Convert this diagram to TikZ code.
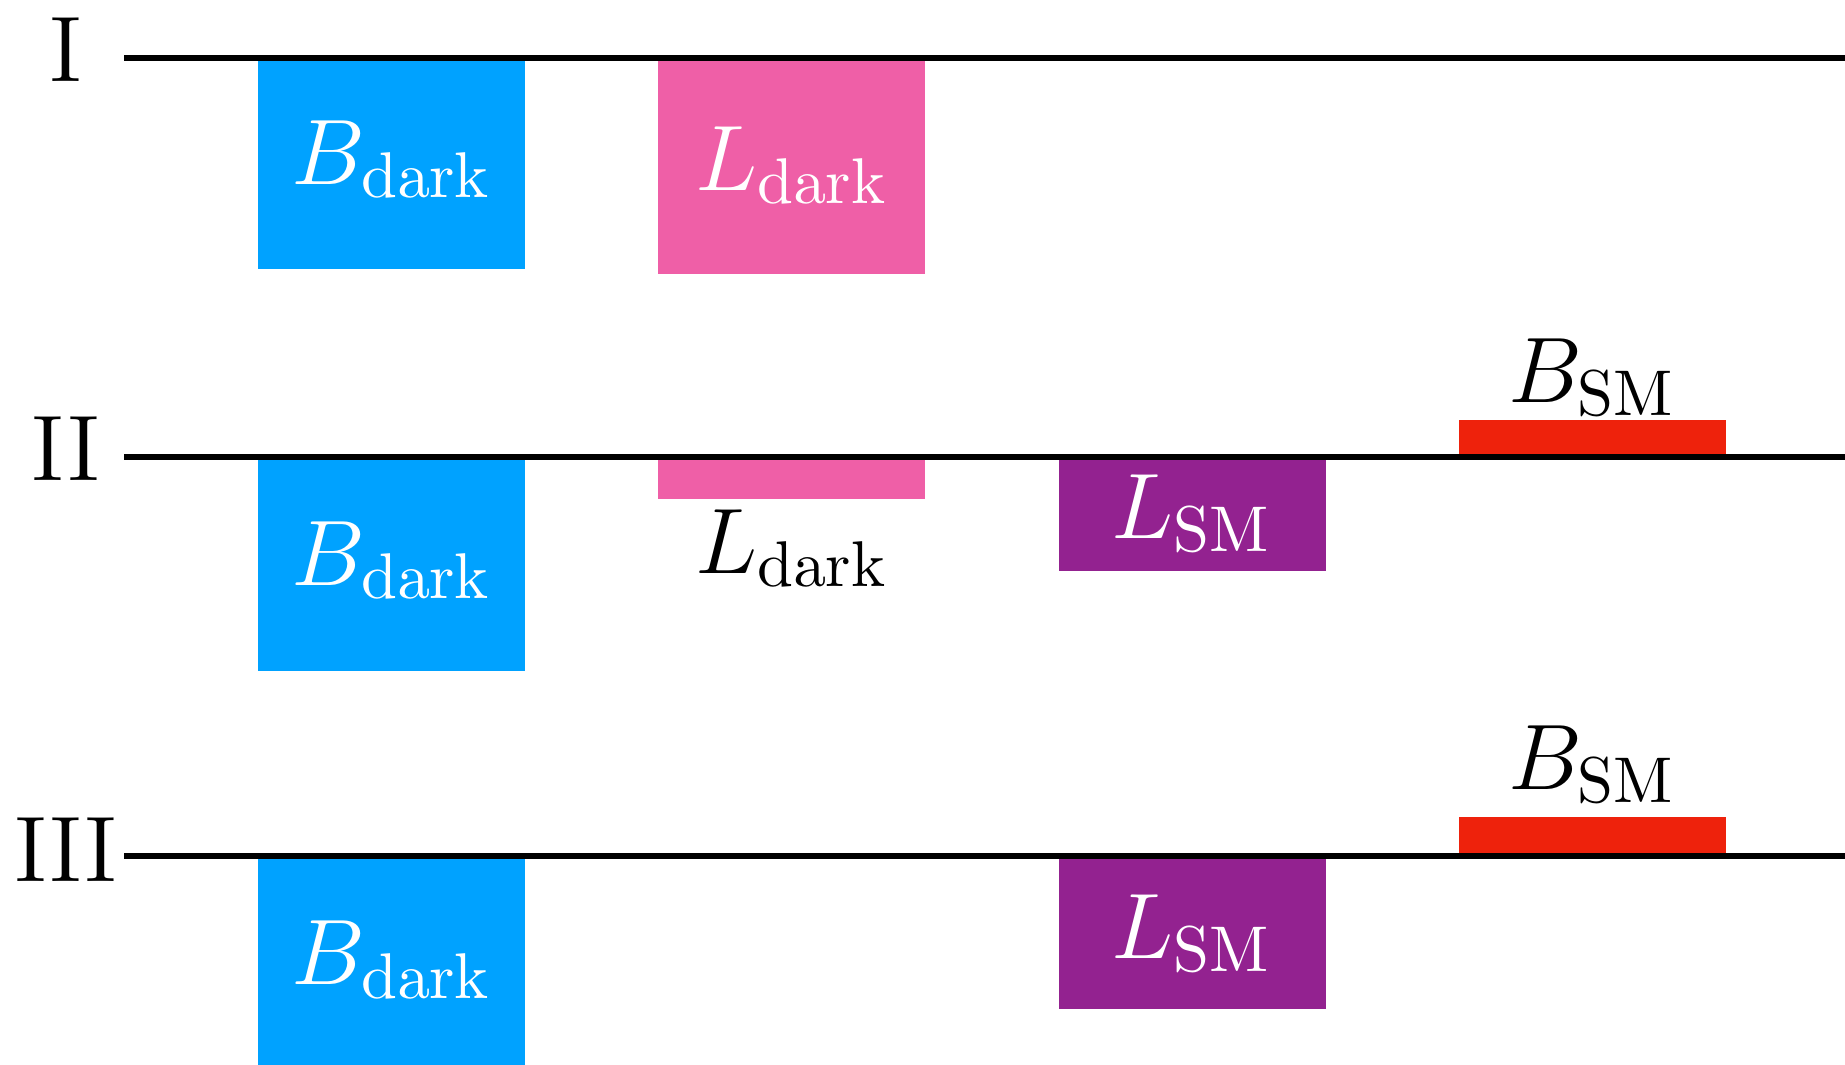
\documentclass[tikz,border=0pt]{standalone}

\definecolor{clrBdark}{HTML}{00A2FF}
\definecolor{clrLdark}{HTML}{EF5FA7}
\definecolor{clrLsm}{HTML}{932290}
\definecolor{clrBsm}{HTML}{EE220C}
% labels are set in \Large and blown up
\newcommand{\lbl}[1]{\scalebox{1.84}{\Large #1}}

\begin{document}
\begin{tikzpicture}[
    level/.style={line width=1.7pt},
    boxlabel/.style={anchor=base, text=white},
    outlabel/.style={anchor=base}
  ]
  \useasboundingbox (0,0) rectangle (18.45,-10.64);

  % stage I
  \fill[clrBdark] (2.575,-0.58) rectangle (5.245,-2.69);
  \node[boxlabel] (bdarkI) at (3.92,-1.84) {\lbl{$B_{\mathrm{dark}}$}};

  \fill[clrLdark] (6.58,-0.58) rectangle (9.25,-2.74);
  \node[boxlabel] (ldarkI) at (7.92,-1.90) {\lbl{$L_{\mathrm{dark}}$}};

  \draw[level] (1.24,-0.58) -- (18.45,-0.58);
  \node[outlabel] (stageI) at (0.66,-0.81) {\lbl{I}};

  % stage II
  \fill[clrBdark] (2.575,-4.57) rectangle (5.245,-6.71);
  \node[boxlabel] (bdarkII) at (3.92,-5.85) {\lbl{$B_{\mathrm{dark}}$}};

  \fill[clrLdark] (6.58,-4.57) rectangle (9.25,-4.99);
  \node[outlabel] (ldarkII) at (7.92,-5.73) {\lbl{$L_{\mathrm{dark}}$}};

  \fill[clrLsm] (10.585,-4.57) rectangle (13.255,-5.71);
  \node[boxlabel] (lsmII) at (11.92,-5.38) {\lbl{$L_{\mathrm{SM}}$}};

  \fill[clrBsm] (14.59,-4.20) rectangle (17.26,-4.57);
  \node[outlabel] (bsmII) at (15.925,-4.02) {\lbl{$B_{\mathrm{SM}}$}};

  \draw[level] (1.24,-4.57) -- (18.45,-4.57);
  \node[outlabel] (stageII) at (0.66,-4.80) {\lbl{II}};

  % stage III
  \fill[clrBdark] (2.575,-8.56) rectangle (5.245,-10.70);
  \node[boxlabel] (bdarkIII) at (3.92,-9.84) {\lbl{$B_{\mathrm{dark}}$}};

  \fill[clrLsm] (10.585,-8.56) rectangle (13.255,-10.09);
  \node[boxlabel] (lsmIII) at (11.92,-9.58) {\lbl{$L_{\mathrm{SM}}$}};

  \fill[clrBsm] (14.59,-8.17) rectangle (17.26,-8.56);
  \node[outlabel] (bsmIII) at (15.925,-7.89) {\lbl{$B_{\mathrm{SM}}$}};

  \draw[level] (1.24,-8.56) -- (18.45,-8.56);
  \node[outlabel] (stageIII) at (0.66,-8.81) {\lbl{III}};

\end{tikzpicture}
\end{document}
